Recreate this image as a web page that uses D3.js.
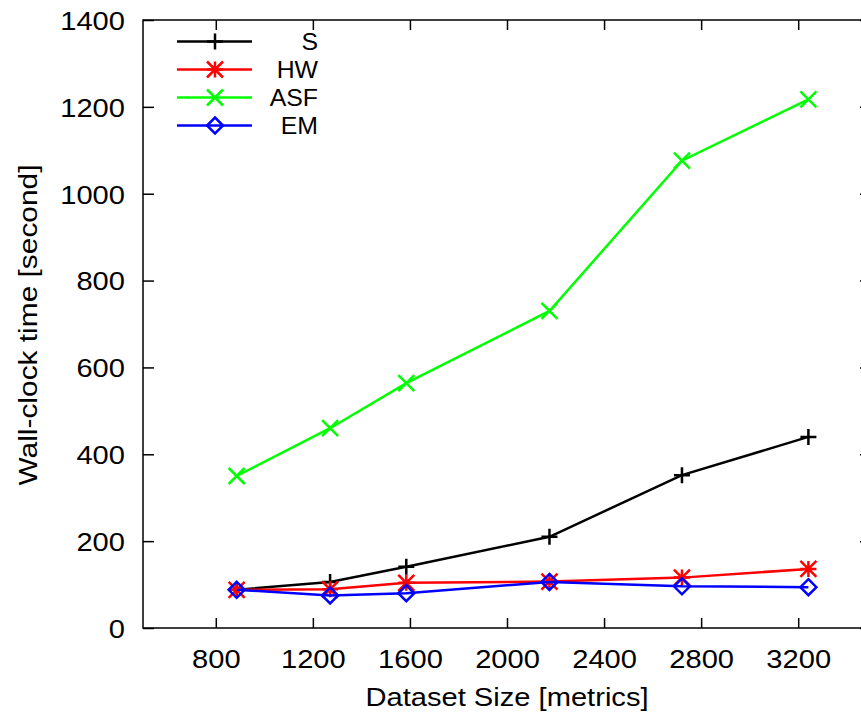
<!DOCTYPE html>
<html><head><meta charset="utf-8">
<script src="https://cdn.jsdelivr.net/npm/d3@7"></script>
<style>
body{margin:0;background:#fff;}
text{font-family:"Liberation Sans",Arial,Helvetica,sans-serif;fill:#000;}
</style></head>
<body><svg id="chart" width="861" height="720"></svg>
<script>
const datasetSizes = [886, 1271, 1585, 2175, 2721, 3242];
const seriesS   = [88, 106, 141, 210, 352, 440];
const seriesHW  = [88, 89, 104, 107, 116, 136];
const seriesASF = [350, 460, 564, 730, 1076, 1217];
const seriesEM  = [88, 75, 80, 106, 96, 94];
const seriesNames = ["S", "HW", "ASF", "EM"];
const seriesColors = ["#000000", "#ff0000", "#00ff00", "#0000ff"];
const xTicks = [800, 1200, 1600, 2000, 2400, 2800, 3200];
const yTicks = [0, 200, 400, 600, 800, 1000, 1200, 1400];

const series = [seriesS, seriesHW, seriesASF, seriesEM].map((v, i) => ({
  name: seriesNames[i], color: seriesColors[i], values: v
}));

const svg = d3.select("#chart");
const L = 143, R = 871, T = 20, B = 628;
const x = d3.scaleLinear().domain([500, 3500]).range([L, R]);
const y = d3.scaleLinear().domain([0, 1400]).range([B, T]);
const FS = 26, SX = 1.12;

// frame
svg.append("rect").attr("x", L).attr("y", T).attr("width", R - L).attr("height", B - T)
  .attr("fill", "none").attr("stroke", "#000").attr("stroke-width", 1.5);

// axes (ticks inside)
const xAxis = svg.append("g").attr("transform", `translate(0,${B})`)
  .call(d3.axisBottom(x).tickValues(xTicks).tickSize(-10).tickFormat(d3.format("d")));
const xTop = svg.append("g").attr("transform", `translate(0,${T})`)
  .call(d3.axisTop(x).tickValues(xTicks).tickSize(-10).tickFormat(""));
const yAxis = svg.append("g").attr("transform", `translate(${L},0)`)
  .call(d3.axisLeft(y).tickValues(yTicks).tickSize(-11).tickFormat(d3.format("d")));
const yRight = svg.append("g").attr("transform", `translate(${R},0)`)
  .call(d3.axisRight(y).tickValues(yTicks).tickSize(-11).tickFormat(""));
[xAxis, xTop, yAxis, yRight].forEach(g => {
  g.select(".domain").remove();
  g.selectAll(".tick line").attr("stroke", "#000").attr("stroke-width", 1.5);
});
xAxis.selectAll(".tick text").attr("font-size", FS).attr("dy", null).attr("y", 40)
  .attr("transform", `scale(${SX},1)`);
yAxis.selectAll(".tick text").attr("font-size", FS).attr("dy", "0.36em").attr("x", -18 / SX)
  .attr("transform", `scale(${SX},1)`);

// axis titles
svg.append("text").attr("transform", `translate(${(L + R) / 2},706) scale(${SX},1)`)
  .attr("text-anchor", "middle").attr("font-size", FS).text("Dataset Size [metrics]");
svg.append("text").attr("transform", `translate(37,${(T + B) / 2 + 1}) rotate(-90) scale(${SX + 0.03},1)`)
  .attr("text-anchor", "middle").attr("font-size", FS).text("Wall-clock time [second]");

// markers
function drawMarker(g, type, cx, cy, color) {
  const s = 8;
  let d;
  if (type === 0) d = `M${cx - s},${cy}H${cx + s}M${cx},${cy - s}V${cy + s}`;
  else if (type === 1) d = `M${cx - s},${cy}H${cx + s}M${cx},${cy - s}V${cy + s}M${cx - s},${cy - s}L${cx + s},${cy + s}M${cx - s},${cy + s}L${cx + s},${cy - s}`;
  else if (type === 2) d = `M${cx - s},${cy - s}L${cx + s},${cy + s}M${cx - s},${cy + s}L${cx + s},${cy - s}`;
  else d = `M${cx},${cy - s}L${cx + s},${cy}L${cx},${cy + s}L${cx - s},${cy}Z`;
  g.append("path").attr("d", d).attr("fill", "none").attr("stroke", color).attr("stroke-width", 2.5);
}

const line = d3.line().x((d, i) => x(datasetSizes[i])).y(d => y(d));
series.forEach((s, k) => {
  const g = svg.append("g");
  g.append("path").datum(s.values).attr("d", line).attr("fill", "none")
    .attr("stroke", s.color).attr("stroke-width", 2.5);
  s.values.forEach((v, i) => drawMarker(g, k, x(datasetSizes[i]), y(v), s.color));
});

// legend
series.forEach((s, k) => {
  const ly = 41.5 + k * 28;
  const g = svg.append("g");
  g.append("line").attr("x1", 177).attr("x2", 252).attr("y1", ly).attr("y2", ly)
    .attr("stroke", s.color).attr("stroke-width", 2.5);
  drawMarker(g, k, 215, ly, s.color);
  g.append("text").attr("transform", `translate(318,${ly}) scale(1.08,1)`).attr("dy", "0.36em")
    .attr("text-anchor", "end").attr("font-size", 23).text(s.name);
});
</script></body></html>
